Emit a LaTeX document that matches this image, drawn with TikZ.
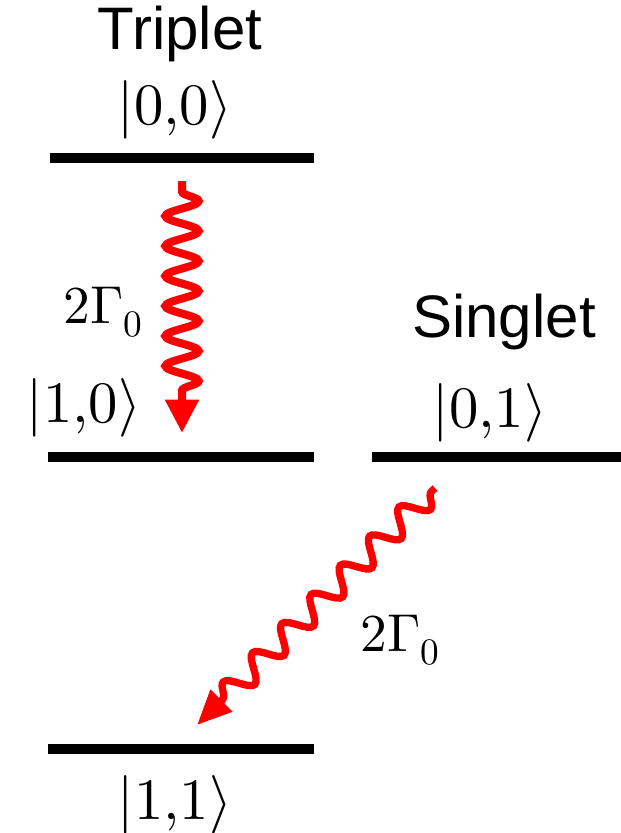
\documentclass[tikz,border=0pt]{standalone}
\usepackage{fontspec}
\usepackage{unicode-math}
\setmathfont{Latin Modern Math}
\setsansfont{Liberation Sans}
\usetikzlibrary{arrows.meta,decorations.pathmorphing}
\tikzset{
  level/.style={line width=7.5pt},
  sanslabel/.style={font=\sffamily\fontsize{45}{50}\selectfont, inner sep=0pt},
  ket/.style={font=\fontsize{44}{50}\selectfont, inner sep=0pt},
  rate/.style={font=\fontsize{40}{46}\selectfont, inner sep=0pt},
  photon/.style={red, line width=6pt, decorate,
    decoration={snake, segment length=22.5pt, amplitude=12.5pt, pre length=8pt, post length=27pt},
    -{Triangle[length=25pt,width=24pt]}},
  photondiag/.style={red, line width=5.5pt, decorate,
    decoration={snake, segment length=31pt, amplitude=9pt, pre length=4pt, post length=22pt},
    -{Triangle[length=26pt,width=22pt]}}
}
\begin{document}
\begin{tikzpicture}[x=0.75pt,y=-0.75pt]
\useasboundingbox (0,0) rectangle (621,833);
% levels
\coordinate (t1) at (50,158); \coordinate (t2) at (314,158);
\coordinate (m1) at (48,457); \coordinate (m2) at (314,457);
\coordinate (s1) at (372,457); \coordinate (s2) at (621,457);
\coordinate (b1) at (48,749); \coordinate (b2) at (314,749);
\draw[level] (t1) -- (t2);
\draw[level] (m1) -- (m2);
\draw[level] (s1) -- (s2);
\draw[level] (b1) -- (b2);
% labels
\node[sanslabel] (trip) at (180,34) {Triplet};
\node[ket] (k00) at (175,110) {$|0{,}0\rangle$};
\node[ket] (k10) at (84,408) {$|1{,}0\rangle$};
\node[sanslabel] (sing) at (504,322) {Singlet};
\node[ket] (k01) at (490,413) {$|0{,}1\rangle$};
\node[ket] (k11) at (175,805) {$|1{,}1\rangle$};
\node[rate] (r1) at (103,312) {$2\Gamma_0$};
\node[rate] (r2) at (400,640) {$2\Gamma_0$};
% photons
\coordinate (a1) at (182,181); \coordinate (a2) at (182,433);
\coordinate (d1) at (435,488); \coordinate (d2) at (197,725);
\draw[photon] (a1) -- (a2);
\draw[photondiag] (d1) -- (d2);
\end{tikzpicture}
\end{document}
